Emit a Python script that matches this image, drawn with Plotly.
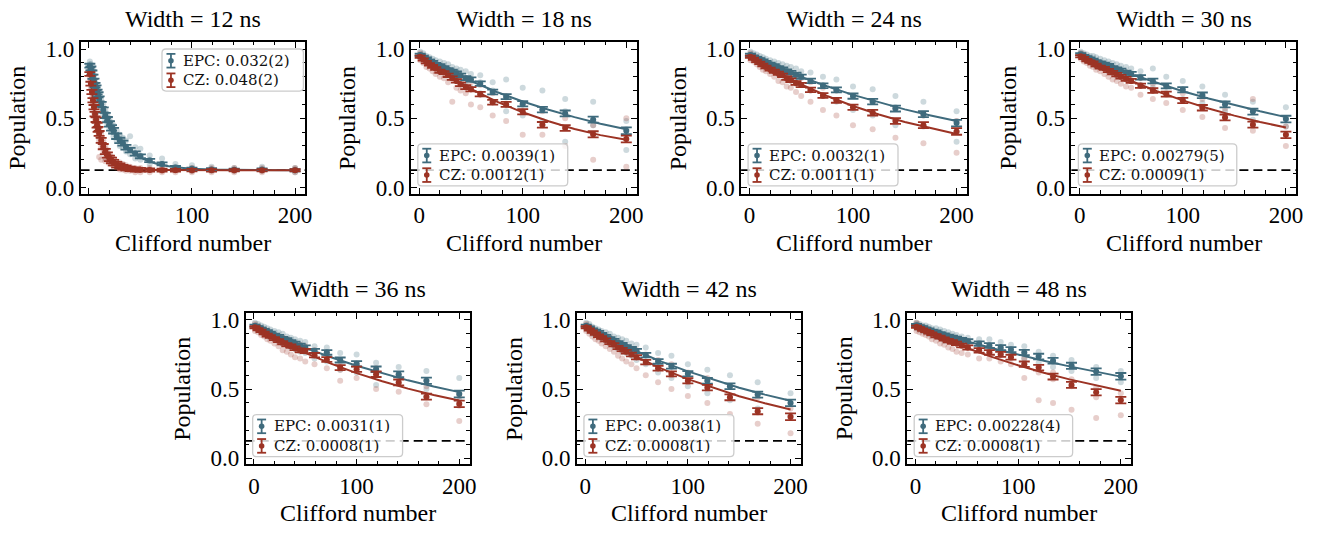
import plotly.graph_objects as go

W, H = 1343, 536

# ---------------- data ----------------
X = [1, 4, 7, 10, 13, 16, 20, 24, 28, 32, 36, 40, 45, 50, 59, 71, 84, 100, 119, 141, 168, 200]
X1 = [1, 2, 3, 4, 5, 6, 7, 8, 9, 10, 12, 14, 16, 18, 20, 22, 24, 27, 30, 33, 36, 40, 45, 50,
      59, 71, 84, 100, 119, 141, 168, 200]
X7 = [1, 4, 7, 10, 13, 16, 20, 24, 28, 32, 36, 40, 45, 51, 62, 72, 83, 93, 106, 120, 134, 152, 176, 200]
FIT_X = [1, 25, 50, 75, 100, 125, 150, 175, 200]
CHANCE = 0.125

TITLES = ["Width = 12 ns", "Width = 18 ns", "Width = 24 ns", "Width = 30 ns",
          "Width = 36 ns", "Width = 42 ns", "Width = 48 ns"]
EPC_LABELS = ["EPC: 0.032(2)", "EPC: 0.0039(1)", "EPC: 0.0032(1)", "EPC: 0.00279(5)",
              "EPC: 0.0031(1)", "EPC: 0.0038(1)", "EPC: 0.00228(4)"]
CZ_LABELS = ["CZ: 0.048(2)", "CZ: 0.0012(1)", "CZ: 0.0011(1)", "CZ: 0.0009(1)",
             "CZ: 0.0008(1)", "CZ: 0.0008(1)", "CZ: 0.0008(1)"]

ERR = [0.008, 0.008, 0.009, 0.009, 0.010, 0.010, 0.011, 0.011, 0.012, 0.012, 0.013, 0.013,
       0.014, 0.015, 0.016, 0.017, 0.018, 0.019, 0.020, 0.021, 0.022, 0.024]
ERR1 = [0.014, 0.014, 0.015, 0.015, 0.016, 0.016, 0.017, 0.017, 0.018, 0.018, 0.018, 0.019,
        0.019, 0.019, 0.020, 0.020, 0.020, 0.020, 0.019, 0.018, 0.017, 0.016, 0.015, 0.014,
        0.012, 0.011, 0.010, 0.009, 0.009, 0.008, 0.008, 0.008]
ERR7 = [0.008, 0.008, 0.009, 0.009, 0.010, 0.010, 0.011, 0.011, 0.012, 0.012, 0.013, 0.013,
        0.014, 0.015, 0.016, 0.017, 0.018, 0.018, 0.019, 0.020, 0.021, 0.022, 0.023, 0.024]

# ---- panel 1 (12 ns)
B1 = [0.88, 0.86, 0.83, 0.80, 0.77, 0.74, 0.72, 0.69, 0.67, 0.64, 0.60, 0.56, 0.52, 0.49, 0.46,
      0.43, 0.41, 0.37, 0.34, 0.32, 0.29, 0.27, 0.245, 0.225, 0.195, 0.17, 0.145, 0.135, 0.13,
      0.128, 0.13, 0.125]
R1 = [0.82, 0.75, 0.69, 0.63, 0.58, 0.53, 0.49, 0.45, 0.42, 0.39, 0.34, 0.295, 0.26, 0.235,
      0.21, 0.195, 0.18, 0.165, 0.155, 0.145, 0.14, 0.135, 0.13, 0.128, 0.126, 0.125, 0.124,
      0.125, 0.124, 0.125, 0.124, 0.125]
FB1 = [0.891, 0.858, 0.827, 0.797, 0.768, 0.741, 0.715, 0.689, 0.665, 0.642, 0.599, 0.559,
       0.523, 0.490, 0.459, 0.432, 0.406, 0.371, 0.341, 0.315, 0.291, 0.265, 0.238, 0.215,
       0.186, 0.161, 0.146, 0.135, 0.129, 0.127, 0.125, 0.125]
FR1 = [0.824, 0.751, 0.686, 0.628, 0.576, 0.529, 0.487, 0.449, 0.416, 0.385, 0.334, 0.293,
       0.260, 0.233, 0.212, 0.195, 0.181, 0.165, 0.154, 0.146, 0.140, 0.135, 0.131, 0.128,
       0.127, 0.126, 0.125, 0.125, 0.125, 0.125, 0.125, 0.125]
SB1 = [[0.91, 0.86, 0.89], [0.84, 0.89, 0.85], [0.85, 0.81, 0.84], [0.82, 0.78, 0.81],
       [0.75, 0.80, 0.76], [0.77, 0.72, 0.74], [0.70, 0.75, 0.71], [0.72, 0.66, 0.70],
       [0.65, 0.70, 0.66], [0.67, 0.61, 0.64], [0.63, 0.57, 0.61], [0.53, 0.60, 0.55],
       [0.56, 0.49, 0.53], [0.46, 0.53, 0.48], [0.50, 0.43, 0.47], [0.40, 0.47, 0.42],
       [0.45, 0.37, 0.42], [0.34, 0.41, 0.38], [0.38, 0.30, 0.35], [0.29, 0.36, 0.33],
       [0.34, 0.26, 0.30], [0.37, 0.24, 0.28], [0.21, 0.29, 0.25], [0.28, 0.20, 0.23],
       [0.17, 0.23, 0.20], [0.21, 0.15, 0.17], [0.13, 0.17, 0.15], [0.16, 0.12, 0.14],
       [0.12, 0.15, 0.13], [0.14, 0.12, 0.13], [0.12, 0.15, 0.13], [0.14, 0.11, 0.13]]
SR1 = [[0.85, 0.79, 0.83], [0.72, 0.78, 0.75], [0.72, 0.65, 0.69], [0.60, 0.67, 0.62],
       [0.62, 0.54, 0.58], [0.49, 0.57, 0.52], [0.53, 0.44, 0.50], [0.41, 0.49, 0.45],
       [0.46, 0.37, 0.43], [0.34, 0.43, 0.22], [0.38, 0.29, 0.20], [0.25, 0.34, 0.30],
       [0.30, 0.21, 0.19], [0.20, 0.27, 0.24], [0.24, 0.17, 0.21], [0.17, 0.22, 0.19],
       [0.21, 0.15, 0.18], [0.14, 0.19, 0.16], [0.18, 0.13, 0.15], [0.13, 0.17, 0.14],
       [0.16, 0.12, 0.14], [0.12, 0.15, 0.14], [0.14, 0.11, 0.13], [0.11, 0.14, 0.13],
       [0.14, 0.11, 0.13], [0.11, 0.14, 0.12], [0.14, 0.11, 0.13], [0.11, 0.14, 0.12],
       [0.14, 0.11, 0.13], [0.11, 0.14, 0.12], [0.14, 0.11, 0.12], [0.11, 0.14, 0.13]]

# ---- panel 2 (18 ns)
B2 = [0.958, 0.945, 0.93, 0.915, 0.905, 0.89, 0.88, 0.865, 0.85, 0.84, 0.825, 0.81, 0.79,
      0.78, 0.75, 0.69, 0.656, 0.605, 0.563, 0.535, 0.49, 0.41]
R2 = [0.945, 0.925, 0.905, 0.89, 0.875, 0.86, 0.84, 0.83, 0.81, 0.79, 0.77, 0.745, 0.725,
      0.71, 0.674, 0.616, 0.60, 0.547, 0.453, 0.43, 0.384, 0.35]
FB2 = [0.956, 0.858, 0.769, 0.690, 0.621, 0.561, 0.508, 0.461, 0.420]
FR2 = [0.944, 0.821, 0.712, 0.620, 0.543, 0.478, 0.423, 0.378, 0.345]
SB2 = [[0.98, 0.94, 0.96], [0.93, 0.97, 0.95], [0.95, 0.91, 0.93], [0.90, 0.94, 0.91],
       [0.93, 0.88, 0.91], [0.87, 0.92, 0.89], [0.91, 0.85, 0.88], [0.84, 0.90, 0.86],
       [0.89, 0.81, 0.85], [0.80, 0.87, 0.84], [0.86, 0.78, 0.83], [0.77, 0.85, 0.81],
       [0.84, 0.74, 0.79], [0.72, 0.82, 0.78], [0.81, 0.68, 0.76], [0.62, 0.76, 0.70],
       [0.78, 0.55, 0.65], [0.52, 0.72, 0.60], [0.70, 0.48, 0.56], [0.33, 0.64, 0.55],
       [0.62, 0.45, 0.49], [0.27, 0.48, 0.42]]
SR2 = [[0.97, 0.92, 0.95], [0.90, 0.95, 0.93], [0.93, 0.87, 0.90], [0.86, 0.92, 0.89],
       [0.90, 0.84, 0.87], [0.82, 0.89, 0.86], [0.87, 0.80, 0.84], [0.79, 0.86, 0.83],
       [0.85, 0.76, 0.81], [0.62, 0.83, 0.79], [0.81, 0.72, 0.77], [0.70, 0.79, 0.74],
       [0.77, 0.68, 0.72], [0.60, 0.76, 0.71], [0.74, 0.58, 0.67], [0.52, 0.68, 0.62],
       [0.66, 0.48, 0.60], [0.38, 0.60, 0.55], [0.55, 0.38, 0.45], [0.30, 0.50, 0.43],
       [0.45, 0.20, 0.38], [0.15, 0.50, 0.35]]

# ---- panel 3 (24 ns)
B3 = [0.958, 0.945, 0.935, 0.925, 0.915, 0.905, 0.89, 0.88, 0.865, 0.855, 0.84, 0.83, 0.815,
      0.80, 0.77, 0.735, 0.705, 0.66, 0.62, 0.57, 0.53, 0.465]
R3 = [0.945, 0.93, 0.915, 0.90, 0.885, 0.87, 0.855, 0.84, 0.825, 0.81, 0.79, 0.775, 0.755,
      0.74, 0.705, 0.665, 0.63, 0.58, 0.54, 0.48, 0.45, 0.405]
FB3 = [0.956, 0.875, 0.799, 0.731, 0.669, 0.614, 0.564, 0.520, 0.480]
FR3 = [0.945, 0.840, 0.744, 0.661, 0.589, 0.527, 0.473, 0.427, 0.386]
SB3 = [[0.98, 0.94, 0.96], [0.93, 0.97, 0.94], [0.96, 0.91, 0.94], [0.90, 0.95, 0.92],
       [0.94, 0.89, 0.92], [0.88, 0.93, 0.90], [0.92, 0.86, 0.89], [0.85, 0.91, 0.87],
       [0.90, 0.82, 0.87], [0.81, 0.89, 0.85], [0.88, 0.79, 0.84], [0.78, 0.87, 0.82],
       [0.86, 0.76, 0.81], [0.74, 0.84, 0.80], [0.83, 0.70, 0.77], [0.66, 0.80, 0.74],
       [0.78, 0.62, 0.70], [0.56, 0.73, 0.66], [0.71, 0.52, 0.62], [0.45, 0.66, 0.58],
       [0.62, 0.44, 0.52], [0.33, 0.55, 0.48]]
SR3 = [[0.97, 0.92, 0.95], [0.91, 0.95, 0.93], [0.94, 0.89, 0.91], [0.87, 0.93, 0.90],
       [0.91, 0.85, 0.89], [0.84, 0.90, 0.87], [0.89, 0.82, 0.85], [0.80, 0.87, 0.84],
       [0.86, 0.77, 0.82], [0.76, 0.85, 0.81], [0.83, 0.73, 0.79], [0.72, 0.81, 0.77],
       [0.80, 0.69, 0.75], [0.66, 0.79, 0.74], [0.76, 0.62, 0.70], [0.56, 0.72, 0.66],
       [0.70, 0.52, 0.63], [0.45, 0.66, 0.58], [0.62, 0.42, 0.54], [0.36, 0.57, 0.48],
       [0.52, 0.32, 0.45], [0.25, 0.48, 0.40]]

# ---- panel 4 (30 ns)
B4 = [0.962, 0.95, 0.94, 0.93, 0.92, 0.91, 0.90, 0.89, 0.88, 0.865, 0.855, 0.845, 0.83, 0.82,
      0.795, 0.769, 0.734, 0.706, 0.666, 0.60, 0.548, 0.494]
R4 = [0.948, 0.935, 0.92, 0.91, 0.90, 0.885, 0.87, 0.86, 0.845, 0.83, 0.815, 0.80, 0.785,
      0.77, 0.735, 0.70, 0.675, 0.628, 0.576, 0.506, 0.454, 0.38]
FB4 = [0.957, 0.886, 0.818, 0.756, 0.695, 0.643, 0.594, 0.550, 0.508]
FR4 = [0.946, 0.854, 0.770, 0.695, 0.629, 0.571, 0.519, 0.473, 0.433]
SB4 = [[0.98, 0.95, 0.97], [0.93, 0.97, 0.95], [0.96, 0.92, 0.94], [0.91, 0.95, 0.93],
       [0.95, 0.89, 0.92], [0.88, 0.94, 0.91], [0.93, 0.87, 0.90], [0.86, 0.92, 0.89],
       [0.91, 0.84, 0.88], [0.83, 0.90, 0.86], [0.89, 0.81, 0.86], [0.80, 0.88, 0.84],
       [0.87, 0.78, 0.83], [0.77, 0.86, 0.82], [0.84, 0.74, 0.80], [0.72, 0.86, 0.77],
       [0.80, 0.68, 0.73], [0.64, 0.77, 0.71], [0.73, 0.61, 0.67], [0.55, 0.67, 0.61],
       [0.62, 0.49, 0.55], [0.44, 0.58, 0.50]]
SR4 = [[0.97, 0.93, 0.95], [0.91, 0.96, 0.93], [0.94, 0.90, 0.92], [0.88, 0.93, 0.91],
       [0.92, 0.87, 0.90], [0.85, 0.91, 0.88], [0.90, 0.84, 0.87], [0.82, 0.89, 0.86],
       [0.88, 0.80, 0.84], [0.78, 0.86, 0.83], [0.85, 0.77, 0.81], [0.75, 0.84, 0.80],
       [0.83, 0.73, 0.78], [0.72, 0.81, 0.77], [0.79, 0.67, 0.74], [0.64, 0.75, 0.70],
       [0.73, 0.61, 0.67], [0.56, 0.68, 0.63], [0.64, 0.51, 0.58], [0.43, 0.57, 0.51],
       [0.64, 0.41, 0.46], [0.30, 0.44, 0.38]]

# ---- panel 5 (36 ns)
B5 = [0.958, 0.946, 0.935, 0.925, 0.915, 0.905, 0.89, 0.88, 0.865, 0.855, 0.84, 0.83, 0.815,
      0.80, 0.775, 0.765, 0.71, 0.683, 0.643, 0.607, 0.56, 0.464]
R5 = [0.946, 0.933, 0.92, 0.905, 0.89, 0.88, 0.865, 0.85, 0.835, 0.82, 0.81, 0.795, 0.78,
      0.775, 0.745, 0.714, 0.655, 0.643, 0.607, 0.548, 0.445, 0.393]
FB5 = [0.956, 0.875, 0.798, 0.730, 0.668, 0.613, 0.563, 0.518, 0.478]
FR5 = [0.946, 0.849, 0.761, 0.684, 0.615, 0.556, 0.503, 0.457, 0.417]
SB5 = [[0.98, 0.95, 0.96], [0.93, 0.97, 0.95], [0.96, 0.91, 0.94], [0.90, 0.95, 0.92],
       [0.94, 0.89, 0.91], [0.87, 0.93, 0.90], [0.92, 0.86, 0.89], [0.85, 0.91, 0.87],
       [0.90, 0.83, 0.86], [0.82, 0.88, 0.85], [0.87, 0.80, 0.84], [0.79, 0.86, 0.83],
       [0.85, 0.77, 0.81], [0.76, 0.84, 0.80], [0.81, 0.72, 0.78], [0.70, 0.80, 0.76],
       [0.76, 0.64, 0.71], [0.62, 0.75, 0.68], [0.69, 0.53, 0.64], [0.57, 0.66, 0.60],
       [0.63, 0.50, 0.56], [0.42, 0.58, 0.47]]
SR5 = [[0.97, 0.92, 0.95], [0.91, 0.95, 0.93], [0.94, 0.89, 0.92], [0.88, 0.93, 0.90],
       [0.91, 0.86, 0.89], [0.85, 0.90, 0.88], [0.89, 0.83, 0.86], [0.81, 0.88, 0.85],
       [0.87, 0.78, 0.83], [0.77, 0.86, 0.82], [0.84, 0.75, 0.81], [0.73, 0.83, 0.79],
       [0.82, 0.72, 0.78], [0.70, 0.81, 0.77], [0.78, 0.68, 0.74], [0.65, 0.76, 0.71],
       [0.70, 0.56, 0.64], [0.58, 0.68, 0.63], [0.65, 0.50, 0.60], [0.48, 0.60, 0.54],
       [0.52, 0.39, 0.44], [0.27, 0.45, 0.38]]

# ---- panel 6 (42 ns)
B6 = [0.958, 0.945, 0.93, 0.92, 0.91, 0.895, 0.88, 0.865, 0.85, 0.835, 0.82, 0.805, 0.79,
      0.775, 0.745, 0.70, 0.665, 0.61, 0.56, 0.52, 0.46, 0.40]
R6 = [0.946, 0.93, 0.915, 0.90, 0.885, 0.872, 0.855, 0.835, 0.82, 0.80, 0.785, 0.77, 0.75,
      0.73, 0.695, 0.65, 0.61, 0.56, 0.51, 0.44, 0.34, 0.30]
FB6 = [0.956, 0.861, 0.773, 0.696, 0.628, 0.568, 0.510, 0.460, 0.415]
FR6 = [0.945, 0.833, 0.732, 0.646, 0.572, 0.508, 0.448, 0.397, 0.352]
SB6 = [[0.98, 0.94, 0.96], [0.92, 0.97, 0.94], [0.95, 0.90, 0.93], [0.89, 0.94, 0.92],
       [0.93, 0.88, 0.91], [0.86, 0.92, 0.89], [0.91, 0.85, 0.88], [0.83, 0.90, 0.86],
       [0.88, 0.81, 0.85], [0.79, 0.87, 0.83], [0.86, 0.77, 0.82], [0.76, 0.85, 0.80],
       [0.83, 0.74, 0.79], [0.71, 0.82, 0.77], [0.80, 0.68, 0.74], [0.62, 0.76, 0.70],
       [0.74, 0.58, 0.66], [0.52, 0.68, 0.61], [0.64, 0.47, 0.56], [0.42, 0.60, 0.52],
       [0.55, 0.36, 0.46], [0.31, 0.47, 0.40]]
SR6 = [[0.97, 0.92, 0.95], [0.90, 0.95, 0.93], [0.94, 0.88, 0.91], [0.86, 0.92, 0.90],
       [0.90, 0.85, 0.88], [0.83, 0.90, 0.87], [0.88, 0.81, 0.85], [0.79, 0.87, 0.83],
       [0.85, 0.77, 0.82], [0.74, 0.84, 0.80], [0.82, 0.72, 0.78], [0.70, 0.81, 0.77],
       [0.79, 0.68, 0.75], [0.65, 0.78, 0.73], [0.75, 0.60, 0.69], [0.55, 0.71, 0.65],
       [0.68, 0.50, 0.60], [0.45, 0.62, 0.55], [0.58, 0.40, 0.52], [0.32, 0.52, 0.44],
       [0.44, 0.25, 0.33], [0.18, 0.36, 0.29]]

# ---- panel 7 (48 ns)
B7 = [0.962, 0.952, 0.945, 0.935, 0.928, 0.92, 0.912, 0.90, 0.89, 0.882, 0.873, 0.865, 0.855,
      0.845, 0.828, 0.815, 0.80, 0.785, 0.764, 0.735, 0.705, 0.668, 0.626, 0.592]
R7 = [0.95, 0.94, 0.93, 0.92, 0.91, 0.90, 0.885, 0.875, 0.862, 0.85, 0.84, 0.83, 0.815, 0.80,
      0.78, 0.765, 0.75, 0.73, 0.68, 0.655, 0.59, 0.53, 0.477, 0.42]
FB7 = [0.957, 0.900, 0.845, 0.795, 0.748, 0.705, 0.664, 0.626, 0.590]
FR7 = [0.947, 0.869, 0.797, 0.731, 0.672, 0.618, 0.570, 0.527, 0.488]
SB7 = [[0.98, 0.94, 0.97], [0.93, 0.97, 0.95], [0.96, 0.92, 0.94], [0.91, 0.96, 0.93],
       [0.95, 0.90, 0.93], [0.89, 0.94, 0.92], [0.94, 0.88, 0.91], [0.87, 0.93, 0.90],
       [0.92, 0.85, 0.89], [0.86, 0.91, 0.88], [0.90, 0.84, 0.87], [0.83, 0.89, 0.86],
       [0.88, 0.82, 0.85], [0.80, 0.87, 0.84], [0.86, 0.79, 0.83], [0.78, 0.86, 0.81],
       [0.84, 0.76, 0.80], [0.74, 0.82, 0.78], [0.81, 0.72, 0.76], [0.69, 0.77, 0.74],
       [0.74, 0.66, 0.70], [0.63, 0.71, 0.67], [0.66, 0.58, 0.62], [0.55, 0.63, 0.59]]
SR7 = [[0.98, 0.92, 0.95], [0.91, 0.96, 0.94], [0.95, 0.90, 0.93], [0.89, 0.94, 0.92],
       [0.93, 0.88, 0.91], [0.86, 0.92, 0.90], [0.91, 0.85, 0.88], [0.83, 0.90, 0.87],
       [0.89, 0.82, 0.86], [0.80, 0.88, 0.85], [0.87, 0.79, 0.84], [0.77, 0.86, 0.83],
       [0.84, 0.76, 0.81], [0.75, 0.84, 0.80], [0.82, 0.72, 0.78], [0.72, 0.80, 0.76],
       [0.79, 0.70, 0.75], [0.68, 0.76, 0.72], [0.72, 0.58, 0.68], [0.42, 0.66, 0.62],
       [0.40, 0.62, 0.57], [0.35, 0.57, 0.52], [0.29, 0.51, 0.44], [0.31, 0.47, 0.43]]

PANELS = [
    dict(x=X1, b=B1, r=R1, eb=ERR1, er=ERR1, fx=X1, fb=FB1, fr=FR1, sb=SB1, sr=SR1),
    dict(x=X, b=B2, r=R2, eb=ERR, er=ERR, fx=FIT_X, fb=FB2, fr=FR2, sb=SB2, sr=SR2),
    dict(x=X, b=B3, r=R3, eb=ERR, er=ERR, fx=FIT_X, fb=FB3, fr=FR3, sb=SB3, sr=SR3),
    dict(x=X, b=B4, r=R4, eb=ERR, er=ERR, fx=FIT_X, fb=FB4, fr=FR4, sb=SB4, sr=SR4),
    dict(x=X, b=B5, r=R5, eb=ERR, er=ERR, fx=FIT_X, fb=FB5, fr=FR5, sb=SB5, sr=SR5),
    dict(x=X, b=B6, r=R6, eb=ERR, er=ERR, fx=FIT_X, fb=FB6, fr=FR6, sb=SB6, sr=SR6),
    dict(x=X7, b=B7, r=R7, eb=ERR7, er=ERR7, fx=FIT_X, fb=FB7, fr=FR7, sb=SB7, sr=SR7),
]

# ---------------- style / layout ----------------
BLUE = "#3f6b7d"
RED = "#9c3324"
BLUE_A = "rgba(63,107,125,0.26)"
RED_A = "rgba(156,51,36,0.24)"
SERIF = "Liberation Serif"
LEG_FONT = "DejaVu Serif"

# axes boxes in pixels: left, top, right, bottom
AX_PX = [(81, 38, 307, 193), (413, 38, 640, 193), (745, 38, 972, 193), (1077, 38, 1303, 193),
         (247, 315, 472, 470), (580, 315, 805, 470), (912, 315, 1137, 470)]


def px(xp, yp):
    return xp / W, 1 - yp / H


fig = go.Figure()
layout = dict(width=W, height=H, autosize=False, margin=dict(l=0, r=0, t=0, b=0),
              paper_bgcolor="white", plot_bgcolor="white", showlegend=False)
shapes = []
annotations = []

for i, (p, (l, t, r, b)) in enumerate(zip(PANELS, AX_PX)):
    n = "" if i == 0 else str(i + 1)
    xa, ya = "x" + n, "y" + n
    common = dict(showline=True, linecolor="black", linewidth=1.7, mirror="allticks",
                  ticks="inside", ticklen=6, tickwidth=1.2, tickcolor="black",
                  showgrid=False, zeroline=False,
                  tickfont=dict(family=SERIF, size=23, color="black"))
    layout["xaxis" + n] = dict(domain=[l / W, r / W], anchor=ya, range=[-8, 210],
                               tick0=0, dtick=100,
                               minor=dict(ticks="inside", ticklen=3.5, tickwidth=1,
                                          tickcolor="black", dtick=20, showgrid=False),
                               **common)
    layout["yaxis" + n] = dict(domain=[1 - b / H, 1 - t / H], anchor=xa, range=[-0.045, 1.05],
                               tick0=0, dtick=0.5, tickformat=".1f",
                               minor=dict(ticks="inside", ticklen=3.5, tickwidth=1,
                                          tickcolor="black", dtick=0.1, showgrid=False),
                               **common)

    # reference level
    shapes.append(dict(type="line", xref=xa + " domain", yref=ya, x0=0, x1=1,
                       y0=CHANCE, y1=CHANCE, layer="below",
                       line=dict(color="black", width=1.8, dash="9px,5px")))

    # individual samples
    for samples, col in ((p["sb"], BLUE_A), (p["sr"], RED_A)):
        sx, sy = [], []
        for xv, vals in zip(p["x"], samples):
            for v in vals:
                sx.append(xv)
                sy.append(v)
        fig.add_trace(go.Scatter(x=sx, y=sy, mode="markers", xaxis=xa, yaxis=ya,
                                 marker=dict(size=6, color=col, line=dict(width=0)),
                                 hoverinfo="skip"))
    # fits
    for fy, col in ((p["fb"], BLUE), (p["fr"], RED)):
        fig.add_trace(go.Scatter(x=p["fx"], y=fy, mode="lines", xaxis=xa, yaxis=ya,
                                 line=dict(color=col, width=2), hoverinfo="skip"))
    # means with error bars
    for my, err, col in ((p["b"], p["eb"], BLUE), (p["r"], p["er"], RED)):
        fig.add_trace(go.Scatter(x=p["x"], y=my, mode="markers", xaxis=xa, yaxis=ya,
                                 marker=dict(size=6, color=col),
                                 error_y=dict(type="data", array=err, color=col,
                                              thickness=1.8, width=5.5),
                                 hoverinfo="skip"))

    # titles / labels
    cx = (l + r) / 2
    cy = (t + b) / 2
    annotations.append(dict(text=TITLES[i], xref="paper", yref="paper",
                            x=cx / W, y=1 - (t - 24) / H, xanchor="center", yanchor="middle",
                            showarrow=False, font=dict(family=SERIF, size=24, color="black")))
    annotations.append(dict(text="Clifford number", xref="paper", yref="paper",
                            x=cx / W, y=1 - (b + 50) / H, xanchor="center", yanchor="middle",
                            showarrow=False, font=dict(family=SERIF, size=24, color="black")))
    annotations.append(dict(text="Population", xref="paper", yref="paper", textangle=-90,
                            x=(l - 64) / W, y=1 - cy / H, xanchor="center", yanchor="middle",
                            showarrow=False, font=dict(family=SERIF, size=24, color="black")))

    # legend (drawn by hand: error-bar glyph + text in a rounded box)
    labels = [EPC_LABELS[i], CZ_LABELS[i]]
    nch = max(len(s) for s in labels)
    bw = 20 + nch * 8.55 + 11
    bh = 43
    if i == 0:
        bx0 = r - 2 - bw
        by0 = t + 7
    else:
        bx0 = l + 7
        by0 = b - 8 - bh
    bx1 = bx0 + bw
    by1 = by0 + bh
    rr = 4
    pts = [("M", bx0 + rr, by0), ("L", bx1 - rr, by0), ("Q", bx1, by0, bx1, by0 + rr),
           ("L", bx1, by1 - rr), ("Q", bx1, by1, bx1 - rr, by1), ("L", bx0 + rr, by1),
           ("Q", bx0, by1, bx0, by1 - rr), ("L", bx0, by0 + rr), ("Q", bx0, by0, bx0 + rr, by0)]
    path = ""
    for seg in pts:
        cmd = seg[0]
        coords = seg[1:]
        parts = []
        for k in range(0, len(coords), 2):
            qx, qy = px(coords[k], coords[k + 1])
            parts.append(f"{qx:.6f},{qy:.6f}")
        path += cmd + " " + " ".join(parts) + " "
    path += "Z"
    shapes.append(dict(type="path", xref="paper", yref="paper", path=path,
                       fillcolor="rgba(255,255,255,0.8)",
                       line=dict(color="rgba(204,204,204,1)", width=1.3), layer="above"))
    for j, (lab, col) in enumerate(zip(labels, (BLUE, RED))):
        ry = by0 + 12 + 20 * j
        sx = bx0 + 9
        x0p, y0p = px(sx, ry - 7)
        _, y1p = px(sx, ry + 7)
        shapes.append(dict(type="line", xref="paper", yref="paper", x0=x0p, x1=x0p,
                           y0=y0p, y1=y1p, line=dict(color=col, width=1.8), layer="above"))
        for yy in (ry - 7, ry + 7):
            ca, cb = px(sx - 4.5, yy)
            cc, _ = px(sx + 4.5, yy)
            shapes.append(dict(type="line", xref="paper", yref="paper", x0=ca, x1=cc,
                               y0=cb, y1=cb, line=dict(color=col, width=1.8), layer="above"))
        c0x, c0y = px(sx - 2.8, ry - 2.8)
        c1x, c1y = px(sx + 2.8, ry + 2.8)
        shapes.append(dict(type="circle", xref="paper", yref="paper", x0=c0x, x1=c1x,
                           y0=c1y, y1=c0y, fillcolor=col, line=dict(color=col, width=0),
                           layer="above"))
        tx, ty = px(bx0 + 19, ry)
        annotations.append(dict(text=lab, xref="paper", yref="paper", x=tx, y=ty,
                                xanchor="left", yanchor="middle", showarrow=False,
                                font=dict(family=LEG_FONT, size=15, color="#111111")))

layout["shapes"] = shapes
layout["annotations"] = annotations
fig.update_layout(**layout)

fig.write_html("out.html", config={"displayModeBar": False},
               post_script="document.body.style.margin='0px';")
